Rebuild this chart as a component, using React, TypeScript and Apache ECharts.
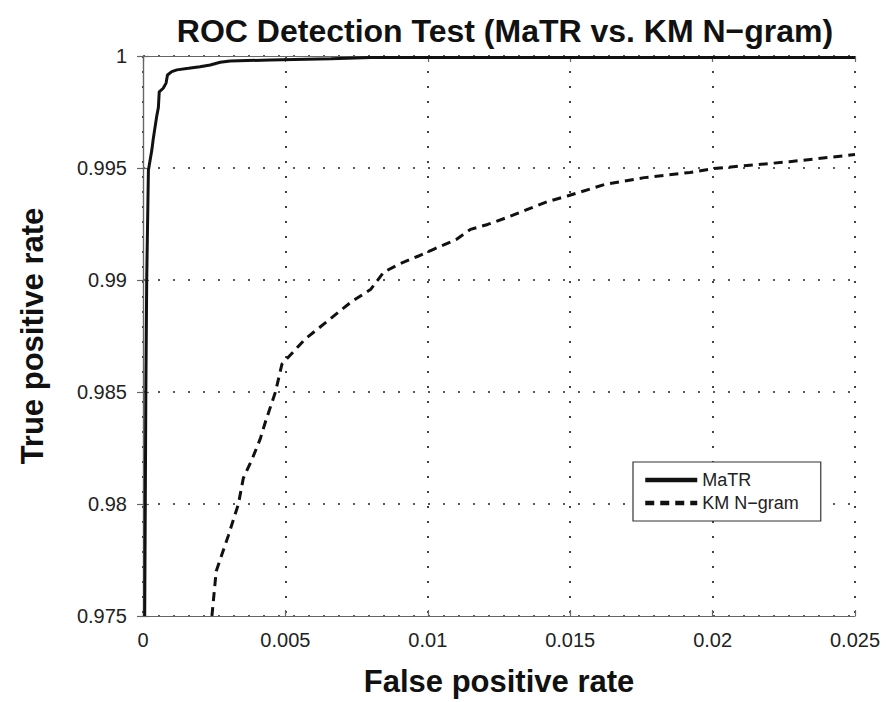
import React, { useEffect, useRef } from "react";
import * as echarts from "echarts";

const xTickLabels = ["0", "0.005", "0.01", "0.015", "0.02", "0.025"];
const yTickLabels = ["0.975", "0.98", "0.985", "0.99", "0.995", "1"];

const matrFpr = [0.00006, 0.00008, 0.0001, 0.00013, 0.00019, 0.00031, 0.00036, 0.00048, 0.00054, 0.00057, 0.00071, 0.00081, 0.00086, 0.00101, 0.00119, 0.0016, 0.002, 0.00236, 0.00271, 0.00306, 0.00447, 0.0066, 0.008, 0.025];
const matrTpr = [0.975, 0.98, 0.985, 0.99, 0.9949, 0.9958, 0.9963, 0.9973, 0.9977, 0.9984, 0.99856, 0.99879, 0.99915, 0.9993, 0.99938, 0.99945, 0.99952, 0.9996, 0.99972, 0.99978, 0.99982, 0.99988, 0.99993, 0.99993];

const kmFpr = [0.00242, 0.00257, 0.003, 0.00335, 0.00352, 0.00384, 0.00412, 0.0043, 0.00465, 0.00488, 0.0057, 0.00687, 0.0073, 0.008, 0.00845, 0.00898, 0.00965, 0.0102, 0.011, 0.0115, 0.0121, 0.0128, 0.0135, 0.0142, 0.0149, 0.0162, 0.0176, 0.0192, 0.02, 0.0211, 0.0227, 0.025];
const kmTpr = [0.975, 0.977, 0.9786, 0.98, 0.98114, 0.98203, 0.98292, 0.98367, 0.985, 0.98625, 0.98737, 0.98857, 0.98901, 0.98959, 0.99035, 0.9907, 0.99106, 0.99137, 0.99181, 0.99226, 0.99248, 0.9928, 0.99315, 0.9935, 0.99375, 0.99426, 0.99457, 0.9948, 0.99497, 0.9951, 0.99528, 0.9956];

const FONT = "Liberation Sans, Arial, Helvetica, sans-serif";

export default function App() {
  const ref = useRef<HTMLDivElement>(null);
  useEffect(() => {
    document.body.style.margin = "0";
    const chart = echarts.init(ref.current!, null, { renderer: "svg" });
    const gridLine = { show: true, lineStyle: { color: "#222", type: [2, 13] as any, width: 1.7 } };
    const axisLineStyle = { show: true, lineStyle: { color: "#666", width: 1.2 } };
    const tick = { show: true, inside: true, length: 6, lineStyle: { color: "#666", width: 1.2 } };
    chart.setOption({
      animation: false,
      backgroundColor: "#fff",
      title: {
        text: "ROC Detection Test (MaTR vs. KM N\u2212gram)",
        left: 500,
        top: 10,
        textAlign: "center",
        textStyle: { fontFamily: FONT, fontSize: 32, fontWeight: "bold", color: "#111" },
      },
      grid: { left: 143, top: 56, right: 31, bottom: 84, show: false },
      legend: {
        left: 633,
        top: 462,
        orient: "vertical",
        itemWidth: 52,
        itemHeight: 20,
        itemGap: 5,
        padding: [9, 22, 9, 10],
        borderColor: "#333",
        borderWidth: 1.2,
        backgroundColor: "#fff",
        borderRadius: 0,
        itemStyle: { color: "rgba(0,0,0,0)", borderColor: "rgba(0,0,0,0)", borderWidth: 0, opacity: 0 },
        lineStyle: { width: 4.5 },
        textStyle: { fontFamily: FONT, fontSize: 18, color: "#222" },
        data: ["MaTR", "KM N\u2212gram"],
      },
      xAxis: [
        {
          type: "value",
          min: 0,
          max: 0.025,
          interval: 0.005,
          position: "bottom",
          name: "False positive rate",
          nameLocation: "middle",
          nameGap: 50,
          nameTextStyle: { fontFamily: FONT, fontSize: 31, fontWeight: "bold", color: "#111" },
          axisLine: axisLineStyle,
          axisTick: tick,
          splitLine: gridLine,
          axisLabel: {
            fontFamily: FONT,
            fontSize: 20,
            color: "#222",
            margin: 14,
            formatter: (_v: number, i: number) => xTickLabels[i],
          },
        },
        {
          type: "value",
          min: 0,
          max: 0.025,
          interval: 0.005,
          position: "top",
          axisLine: axisLineStyle,
          axisTick: tick,
          splitLine: { show: false },
          axisLabel: { show: false },
        },
      ],
      yAxis: [
        {
          type: "value",
          min: 0.975,
          max: 1,
          interval: 0.005,
          position: "left",
          name: "True positive rate",
          nameLocation: "middle",
          nameGap: 95,
          nameRotate: 90,
          nameTextStyle: { fontFamily: FONT, fontSize: 31, fontWeight: "bold", color: "#111" },
          axisLine: axisLineStyle,
          axisTick: tick,
          splitLine: gridLine,
          axisLabel: {
            fontFamily: FONT,
            fontSize: 20,
            color: "#222",
            margin: 16,
            formatter: (_v: number, i: number) => yTickLabels[i],
          },
        },
        {
          type: "value",
          min: 0.975,
          max: 1,
          interval: 0.005,
          position: "right",
          axisLine: axisLineStyle,
          axisTick: tick,
          splitLine: { show: false },
          axisLabel: { show: false },
        },
      ],
      series: [
        {
          name: "MaTR",
          type: "line",
          symbol: "none",
          xAxisIndex: 0,
          yAxisIndex: 0,
          data: matrFpr.map((x, i) => [x, matrTpr[i]]),
          lineStyle: { color: "#111", width: 3 },
          itemStyle: { color: "#111" },
        },
        {
          name: "KM N\u2212gram",
          type: "line",
          symbol: "none",
          xAxisIndex: 0,
          yAxisIndex: 0,
          data: kmFpr.map((x, i) => [x, kmTpr[i]]),
          lineStyle: { color: "#111", width: 3, type: [9, 6] as any },
          itemStyle: { color: "#111" },
        },
      ],
    });
    return () => chart.dispose();
  }, []);
  return <div ref={ref} style={{ width: 886, height: 702 }} />;
}
